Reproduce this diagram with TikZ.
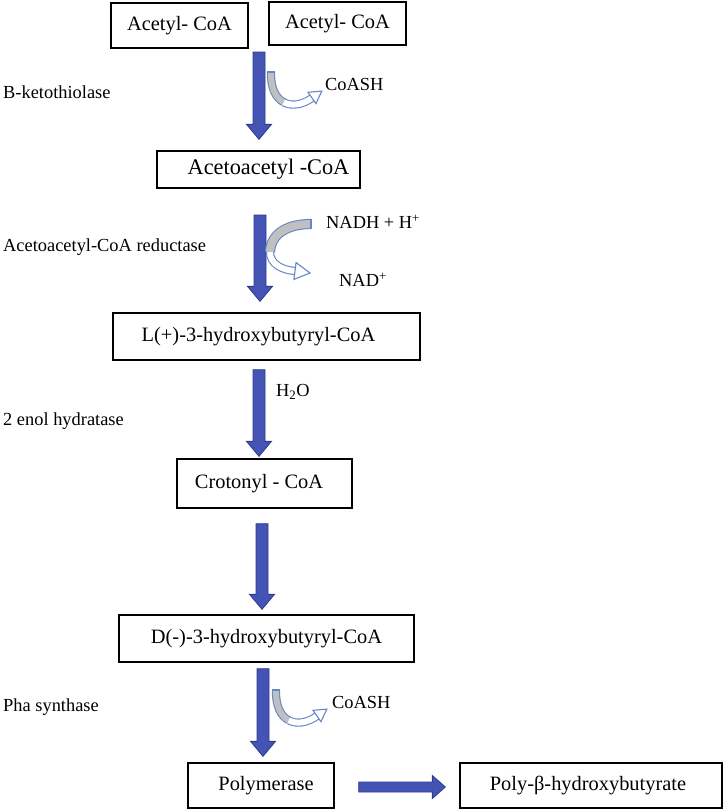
\documentclass[tikz,border=0pt]{standalone}
\usepackage{fontspec}
\setmainfont{Liberation Serif}
\usetikzlibrary{calc}
\definecolor{arrowblue}{RGB}{68,84,180}
\definecolor{arrowedge}{RGB}{47,59,140}
\definecolor{curveblue}{RGB}{100,135,200}
\definecolor{bandgray}{RGB}{192,192,192}
\tikzset{
  box/.style={draw, line width=1.3pt, inner sep=0pt, font=\fontsize{20.4}{24}\selectfont},
  enzyme/.style={anchor=west, inner sep=0pt, font=\fontsize{18.4}{22}\selectfont},
  sidetext/.style={anchor=west, inner sep=0pt, font=\fontsize{18.4}{22}\selectfont},
  barrow/.style={fill=arrowblue, draw=arrowedge, line width=0.8pt, line join=miter},
  grayband/.style={draw=curveblue, line width=1.1pt, double=bandgray, double distance=6pt},
  widegrayband/.style={draw=curveblue, line width=1.1pt, double=bandgray, double distance=8pt},
  whiteband/.style={draw=curveblue, line width=1.1pt, double=white, double distance=6pt},
  curvehead/.style={draw=curveblue, fill=white, line width=1.1pt, line join=miter},
  capline/.style={draw=curveblue, line width=1.1pt}
}
\newcommand{\blockdown}[2]{%
  \filldraw[barrow] let \p1=(#1), \p2=(#2) in
    (\x2-6pt,\y1) -- (\x2+6pt,\y1) -- (\x2+6pt,\y2+15pt) -- (\x2+12.5pt,\y2+15pt)
    -- (\x2,\y2) -- (\x2-12.5pt,\y2+15pt) -- (\x2-6pt,\y2+15pt) -- cycle;}
\newcommand{\blockright}[2]{%
  \filldraw[barrow] let \p1=(#1), \p2=(#2) in
    (\x1,\y2-5pt) -- (\x2-13pt,\y2-5pt) -- (\x2-13pt,\y2-11.5pt) -- (\x2,\y2)
    -- (\x2-13pt,\y2+11.5pt) -- (\x2-13pt,\y2+5pt) -- (\x1,\y2+5pt) -- cycle;}
\newcommand{\coashcurve}[1]{%
  \begin{scope}[shift={(#1)}]
    \draw[grayband] (0,0) .. controls (-0.5,16) and (4.75,26) .. (12.6,30.25);
    \draw[whiteband] (12.6,30.25) .. controls (20.5,34.5) and (31,33) .. (41,26);
    \draw[capline] (-4.2,0) -- (4.2,0);
    \draw[curvehead] (37,20.3) -- (50.8,19.1) -- (45,31.7) -- cycle;
  \end{scope}}
\begin{document}
\begin{tikzpicture}[x=1pt,y=-1pt]
  \useasboundingbox (0,0) rectangle (725,811);
  \fill[white] (0,0) rectangle (725,811);

  % boxes
  \node[box, minimum width=137pt, minimum height=45pt] (a1) at (179.5,25.5) {Acetyl- CoA};
  \node[box, minimum width=137pt, minimum height=43pt] (a2) at (337.5,23.5) {\raisebox{1pt}{Acetyl- CoA}};
  \node[box, minimum width=203pt, minimum height=37pt, font=\fontsize{22.3}{26}\selectfont] (acac) at (258.5,169.5) {\hspace*{20pt}Acetoacetyl -CoA};
  \node[box, minimum width=307pt, minimum height=47pt] (lhb) at (266.5,336.5) {\hspace*{-16pt}L(+)-3-hydroxybutyryl-CoA};
  \node[box, minimum width=175pt, minimum height=49pt] (crot) at (264.5,483.5) {\hspace*{-11pt}Crotonyl - CoA};
  \node[box, minimum width=295pt, minimum height=47pt] (dhb) at (266.5,638.5) {D(-)-3-hydroxybutyryl-CoA};
  \node[box, minimum width=146pt, minimum height=45pt] (poly) at (261,785.5) {\hspace*{10pt}Polymerase};
  \node[box, minimum width=262pt, minimum height=45pt] (phb) at (591,785.5) {\hspace*{-6pt}Poly-β-hydroxybutyrate};

  % enzyme labels
  \node[enzyme] (e1) at (3,92) {B-ketothiolase};
  \node[enzyme] (e2) at (3,247) {Acetoacetyl-CoA reductase};
  \node[enzyme] (e3) at (3,421) {2 enol hydratase};
  \node[enzyme] (e4) at (3,707) {Pha synthase};

  % connector end points
  \coordinate (s1) at (259,52);
  \coordinate (t1) at ($(acac.north)+(0.5,-11)$);
  \coordinate (s2) at (260,215);
  \coordinate (t2) at ($(lhb.north)+(-6.5,-11)$);
  \coordinate (s3) at ($(lhb.south)+(-7.5,9)$);
  \coordinate (t3) at ($(crot.north)+(-5.5,-2)$);
  \coordinate (s4) at ($(crot.south)+(-2.5,15)$);
  \coordinate (t4) at ($(dhb.north)+(-4.5,-5)$);
  \coordinate (s5) at ($(dhb.south)+(-3.5,6)$);
  \coordinate (t5) at ($(poly.north)+(2,-6)$);
  \coordinate (s6) at ($(poly.east)+(24,1.5)$);
  \coordinate (t6) at ($(phb.west)+(-14,1.5)$);

  % main block arrows
  \blockdown{s1}{t1}
  \blockdown{s2}{t2}
  \blockdown{s3}{t3}
  \blockdown{s4}{t4}
  \blockdown{s5}{t5}
  \blockright{s6}{t6}

  % side curved arrows
  \coordinate (c1) at (271,72);
  \coashcurve{c1}
  \node[sidetext] (co1) at (325,84) {CoASH};

  \coordinate (c2) at (276,690);
  \coashcurve{c2}
  \node[sidetext] (co2) at (332,702) {CoASH};

  % NADH curved arrow
  \draw[widegrayband] (311,224) .. controls (290,224) and (271,232) .. (270,252);
  \draw[whiteband] (270,252) .. controls (270,264) and (282,270) .. (295,271);
  \draw[capline] (311,218.8) -- (311,229.2);
  \draw[curvehead] (296.1,262.6) -- (310,273) -- (293.9,279.4) -- cycle;
  \node[sidetext] (nadh) at (326,222) {NADH + H\textsuperscript{+}};
  \node[sidetext] (nad) at (339,280) {NAD\textsuperscript{+}};

  % water
  \node[sidetext] (h2o) at (276,392) {H\textsubscript{2}O};
\end{tikzpicture}
\end{document}
